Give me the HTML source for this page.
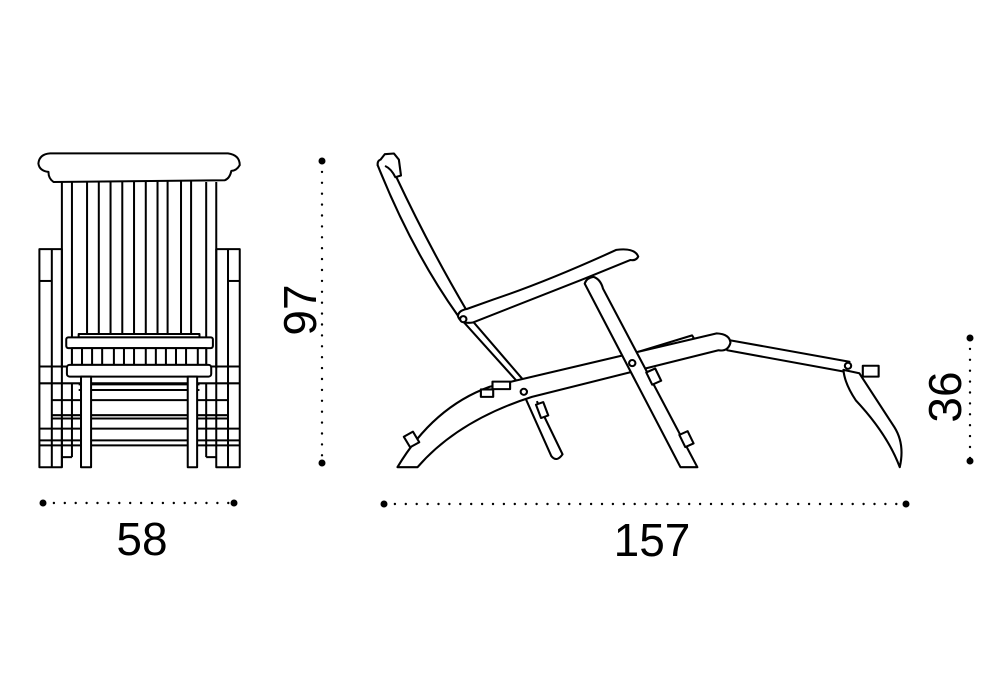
<!DOCTYPE html>
<html><head><meta charset="utf-8"><style>
html,body{margin:0;padding:0;background:#fff}
svg{display:block}
text{font-family:"Liberation Sans",sans-serif;fill:#000}
</style></head><body>
<svg width="1000" height="700" viewBox="0 0 1000 700" xmlns="http://www.w3.org/2000/svg">
<rect width="1000" height="700" fill="#fff"/>

<!-- FRONT VIEW -->
<g transform="translate(30,140) scale(0.3356)" fill="none" stroke="#000" stroke-width="6" stroke-linejoin="round">
  <path d="M25,70 Q28,42 60,40 L590,40 Q625,45 625,75 Q615,92 600,92 Q595,115 580,120 L70,125 Q55,115 55,95 Q28,92 25,70 Z" fill="#fff"/>
  <g>
    <line x1="95" y1="125" x2="95" y2="680"/><line x1="125" y1="125" x2="125" y2="680"/>
    <line x1="170" y1="122" x2="170" y2="585"/><line x1="205" y1="122" x2="205" y2="585"/>
    <line x1="240" y1="122" x2="240" y2="585"/><line x1="275" y1="122" x2="275" y2="585"/>
    <line x1="310" y1="122" x2="310" y2="585"/><line x1="345" y1="122" x2="345" y2="585"/>
    <line x1="380" y1="122" x2="380" y2="585"/><line x1="410" y1="122" x2="410" y2="585"/>
    <line x1="450" y1="122" x2="450" y2="585"/><line x1="480" y1="122" x2="480" y2="585"/>
    <line x1="525" y1="125" x2="525" y2="680"/><line x1="555" y1="125" x2="555" y2="680"/>
  </g>
  <rect x="28" y="325" width="67" height="650"/>
  <line x1="65" y1="325" x2="65" y2="975"/>
  <line x1="28" y1="420" x2="65" y2="420"/>
  <rect x="555" y="325" width="70" height="650"/>
  <line x1="590" y1="325" x2="590" y2="975"/>
  <line x1="590" y1="420" x2="625" y2="420"/>
  <rect x="145" y="578" width="360" height="10" fill="#fff"/>
  <rect x="108" y="588" width="437" height="32" rx="6" fill="#fff"/>
  <rect x="125" y="620" width="400" height="50" fill="#fff"/>
  <g>
    <line x1="155" y1="620" x2="155" y2="670"/><line x1="185" y1="620" x2="185" y2="670"/>
    <line x1="215" y1="620" x2="215" y2="670"/><line x1="250" y1="620" x2="250" y2="670"/>
    <line x1="280" y1="620" x2="280" y2="670"/><line x1="310" y1="620" x2="310" y2="670"/>
    <line x1="345" y1="620" x2="345" y2="670"/><line x1="375" y1="620" x2="375" y2="670"/>
    <line x1="405" y1="620" x2="405" y2="670"/><line x1="435" y1="620" x2="435" y2="670"/>
    <line x1="465" y1="620" x2="465" y2="670"/><line x1="500" y1="620" x2="500" y2="670"/>
  </g>
  <line x1="28" y1="675" x2="625" y2="675"/>
  <line x1="28" y1="725" x2="625" y2="725"/>
  <rect x="110" y="670" width="430" height="35" rx="8" fill="#fff"/>
  <line x1="145" y1="728" x2="505" y2="728"/>
  <line x1="145" y1="745" x2="505" y2="745"/>
  <line x1="65" y1="775" x2="590" y2="775"/>
  <line x1="65" y1="820" x2="590" y2="820"/>
  <line x1="65" y1="830" x2="590" y2="830"/>
  <line x1="28" y1="860" x2="625" y2="860"/>
  <line x1="28" y1="895" x2="625" y2="895"/>
  <line x1="28" y1="910" x2="625" y2="910"/>
  <line x1="95" y1="860" x2="95" y2="975"/>
  <line x1="125" y1="725" x2="125" y2="945"/>
  <line x1="525" y1="725" x2="525" y2="945"/>
  <line x1="95" y1="945" x2="125" y2="945"/>
  <line x1="525" y1="945" x2="555" y2="945"/>
  <rect x="152" y="705" width="30" height="270" fill="#fff"/>
  <rect x="470" y="705" width="28" height="270" fill="#fff"/>
</g>

<!-- SIDE VIEW -->
<g transform="translate(370,140) scale(0.352,0.338)" fill="none" stroke="#000" stroke-width="6" stroke-linejoin="round" stroke-linecap="round">
  <path d="M440,760 L515,935 Q530,955 547,930 L475,775" fill="#fff"/>
  <rect x="478" y="778" width="22" height="42" transform="rotate(-20 489 799)" fill="#fff"/>
  <path d="M22,75 Q120,330 250,520 L440,740"/>
  <path d="M75,110 Q170,320 275,505 M295,540 L452,730"/>
  <path d="M22,75 Q20,62 30,58 L42,42 L68,40 L82,58 L88,105 L72,110 Q60,85 45,78" fill="#fff"/>
  <path d="M720,640 L915,578 L922,590 L740,650"/>
  <path d="M1020,592 L1362,656 M1015,622 L1345,685"/>
  <path d="M1345,680 Q1348,720 1380,770 Q1470,870 1505,968 Q1520,900 1490,850 L1390,690 Z" fill="#fff"/>
  <rect x="1400" y="668" width="45" height="32" fill="#fff"/>
  <circle cx="1358" cy="668" r="9" fill="#fff"/>
  <path d="M78,968 Q180,790 340,730 L985,572 Q1022,574 1024,600 Q1017,627 990,622 L460,760 Q250,830 135,968 Z" fill="#fff"/>
  <rect x="315" y="738" width="35" height="22" fill="#fff"/>
  <rect x="348" y="715" width="50" height="22" fill="#fff"/>
  <rect x="103" y="868" width="30" height="36" transform="rotate(-30 118 886)" fill="#fff"/>
  <path d="M610,425 Q615,408 635,405 Q655,412 662,440 L930,968 L882,968 Z" fill="#fff"/>
  <rect x="792" y="680" width="28" height="40" transform="rotate(-25 806 700)" fill="#fff"/>
  <rect x="886" y="865" width="26" height="40" transform="rotate(-25 899 885)" fill="#fff"/>
  <path d="M250,522 Q250,505 275,500 L350,472 Q500,420 700,325 Q752,318 762,345 Q756,358 740,355 L610,410 L292,540 Q258,545 250,522 Z" fill="#fff"/>
  <circle cx="265" cy="530" r="9" fill="#fff"/>
  <circle cx="745" cy="660" r="9" fill="#fff"/>
  <circle cx="437" cy="745" r="9" fill="#fff"/>
</g>

<!-- DIMENSIONS -->
<g fill="#000">
  <line x1="43" y1="503" x2="234" y2="503" stroke="#000" stroke-width="2.4" stroke-dasharray="0 10.9" stroke-linecap="round"/>
  <circle cx="43" cy="503" r="3.5"/><circle cx="234" cy="503" r="3.5"/>
  <line x1="384" y1="504" x2="906" y2="504" stroke="#000" stroke-width="2.4" stroke-dasharray="0 10.9" stroke-linecap="round"/>
  <circle cx="384" cy="504" r="3.5"/><circle cx="906" cy="504" r="3.5"/>
  <line x1="322" y1="161" x2="322" y2="463" stroke="#000" stroke-width="2.4" stroke-dasharray="0 10.9" stroke-linecap="round"/>
  <circle cx="322" cy="161" r="3.5"/><circle cx="322" cy="463" r="3.5"/>
  <line x1="970" y1="338" x2="970" y2="461" stroke="#000" stroke-width="2.4" stroke-dasharray="0 10.9" stroke-linecap="round"/>
  <circle cx="970" cy="338" r="3.5"/><circle cx="970" cy="461" r="3.5"/>
</g>
<text x="142" y="555" font-size="46" text-anchor="middle">58</text>
<text x="652" y="556" font-size="46" text-anchor="middle">157</text>
<text transform="translate(316,310) rotate(-90)" font-size="46" text-anchor="middle">97</text>
<text transform="translate(961,397) rotate(-90)" font-size="46" text-anchor="middle">36</text>
</svg>
</body></html>
